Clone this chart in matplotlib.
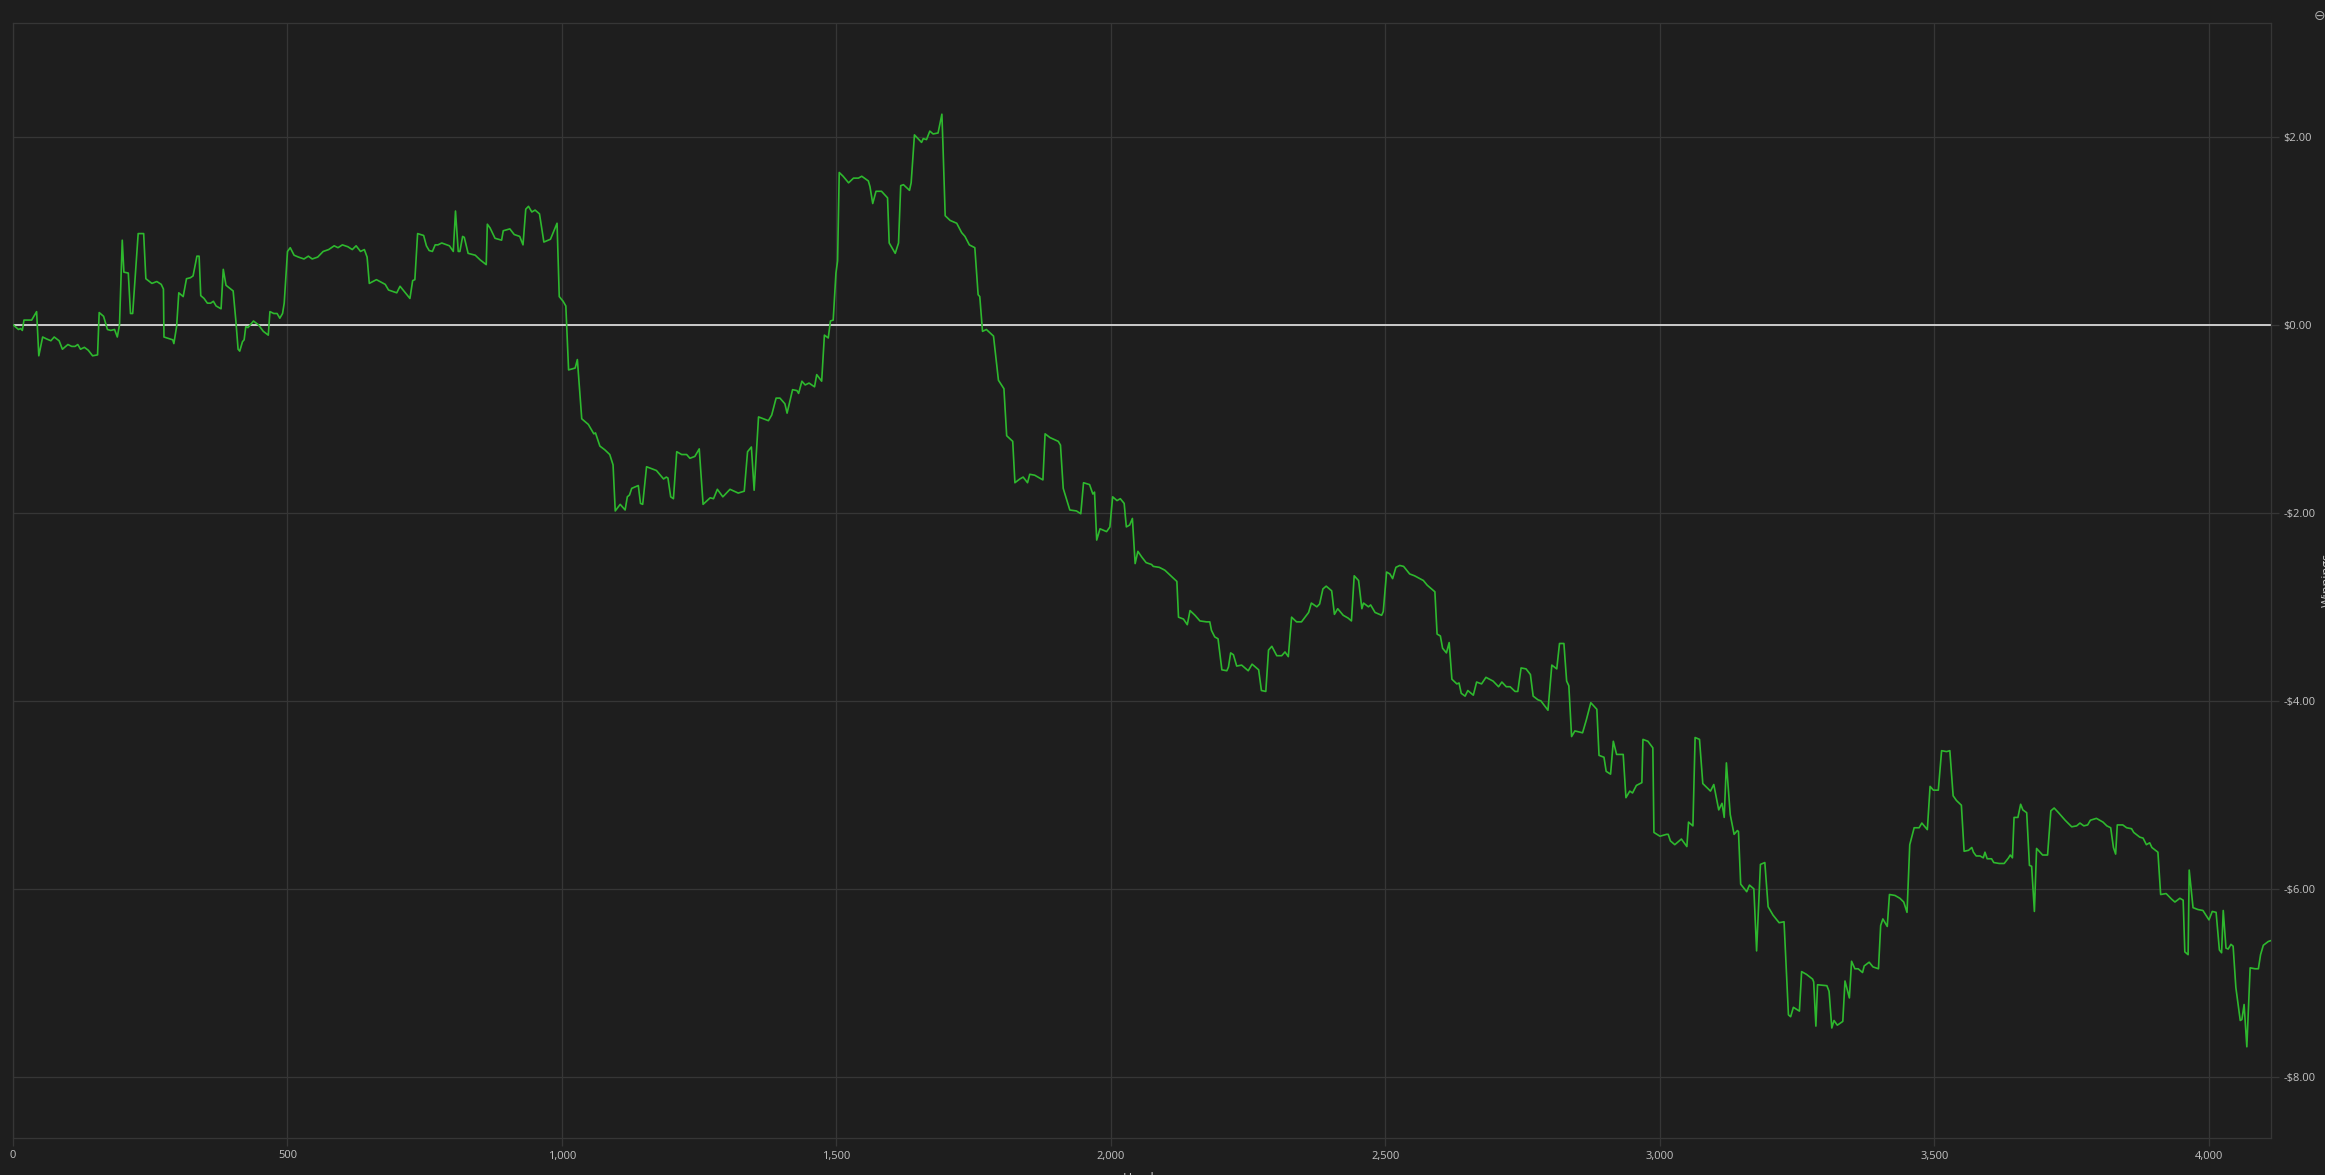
import matplotlib
matplotlib.use("Agg")
import matplotlib.pyplot as plt
from matplotlib.ticker import FuncFormatter, FixedLocator

hands = [0, 10, 14, 17, 20, 34, 43, 47, 54, 61, 69, 75, 84, 90, 100, 107, 113, 118, 123, 130,
         137, 145, 154, 157, 165, 172, 178, 185, 190, 194, 199, 202, 210, 214, 218, 228, 238, 242,
         253, 262, 270, 274, 275, 291, 293, 298, 302, 310, 316, 323, 328, 335, 339, 342, 348, 354,
         360, 365, 370, 379, 383, 388, 401, 406, 410, 413, 418, 421, 424, 428, 438, 447, 456, 465,
         468, 475, 481, 486, 491, 494, 498, 500, 505, 512, 520, 530, 538, 545, 555, 565, 575, 585,
         592, 600, 610, 618, 625, 633, 640, 645, 649, 662, 678, 684, 699, 705, 723, 728, 732, 737,
         748, 753, 758, 764, 769, 774, 781, 795, 802, 806, 811, 814, 819, 822, 829, 842, 851, 862,
         864, 869, 878, 890, 893, 905, 913, 923, 929, 934, 939, 945, 951, 959, 967, 979, 991, 995,
         1002, 1007, 1012, 1024, 1028, 1036, 1048, 1058, 1061, 1069, 1078, 1087, 1093, 1097, 1106,
         1115, 1119, 1123, 1127, 1139, 1143, 1147, 1154, 1172, 1185, 1190, 1193, 1198, 1203, 1209,
         1218, 1227, 1233, 1242, 1250, 1257, 1270, 1276, 1283, 1293, 1306, 1321, 1332, 1338, 1345,
         1350, 1358, 1376, 1382, 1390, 1397, 1406, 1410, 1420, 1428, 1431, 1437, 1443, 1450, 1460,
         1464, 1473, 1478, 1485, 1489, 1494, 1499, 1502, 1505, 1512, 1522, 1531, 1540, 1546, 1558,
         1561, 1566, 1572, 1582, 1593, 1596, 1607, 1613, 1617, 1622, 1633, 1636, 1642, 1655, 1658,
         1664, 1670, 1676, 1685, 1692, 1694, 1698, 1707, 1719, 1728, 1734, 1742, 1752, 1758, 1761,
         1766, 1773, 1786, 1795, 1805, 1810, 1821, 1825, 1834, 1840, 1848, 1852, 1861, 1876, 1880,
         1889, 1904, 1908, 1913, 1925, 1937, 1945, 1950, 1961, 1967, 1970, 1974, 1980, 1992, 1998,
         2003, 2011, 2017, 2024, 2028, 2034, 2039, 2044, 2049, 2056, 2064, 2074, 2077, 2088, 2098,
         2111, 2120, 2123, 2132, 2139, 2144, 2153, 2162, 2174, 2180, 2183, 2189, 2195, 2202, 2211,
         2214, 2218, 2223, 2229, 2238, 2250, 2257, 2269, 2274, 2282, 2287, 2293, 2302, 2311, 2317,
         2323, 2329, 2338, 2347, 2360, 2365, 2375, 2380, 2386, 2392, 2402, 2407, 2413, 2423, 2432,
         2438, 2443, 2451, 2457, 2460, 2469, 2473, 2481, 2493, 2496, 2502, 2508, 2513, 2519, 2526,
         2533, 2544, 2553, 2569, 2576, 2590, 2594, 2600, 2604, 2611, 2616, 2621, 2630, 2634, 2638,
         2645, 2650, 2660, 2666, 2675, 2683, 2696, 2706, 2712, 2720, 2727, 2736, 2741, 2747, 2756,
         2764, 2769, 2778, 2783, 2796, 2803, 2812, 2817, 2825, 2830, 2834, 2839, 2845, 2859, 2866,
         2874, 2885, 2889, 2898, 2902, 2910, 2915, 2921, 2933, 2938, 2945, 2950, 2957, 2967, 2969,
         2978, 2987, 2989, 3000, 3012, 3015, 3019, 3027, 3039, 3049, 3052, 3060, 3064, 3072, 3078,
         3092, 3098, 3107, 3113, 3117, 3121, 3128, 3135, 3141, 3143, 3147, 3158, 3163, 3169, 3171,
         3176, 3183, 3191, 3197, 3206, 3217, 3226, 3234, 3238, 3243, 3254, 3258, 3267, 3278, 3280,
         3284, 3287, 3304, 3308, 3313, 3317, 3323, 3333, 3337, 3345, 3349, 3355, 3361, 3369, 3372,
         3381, 3388, 3398, 3402, 3406, 3414, 3418, 3428, 3437, 3444, 3450, 3455, 3463, 3472, 3477,
         3487, 3492, 3498, 3507, 3513, 3522, 3528, 3534, 3540, 3549, 3554, 3562, 3568, 3571, 3576,
         3583, 3589, 3592, 3596, 3604, 3608, 3618, 3627, 3635, 3638, 3642, 3645, 3652, 3657, 3661,
         3668, 3673, 3677, 3682, 3686, 3697, 3706, 3712, 3718, 3726, 3738, 3750, 3759, 3765, 3772,
         3779, 3784, 3795, 3807, 3814, 3821, 3826, 3830, 3833, 3843, 3850, 3859, 3863, 3874, 3880,
         3886, 3892, 3896, 3907, 3912, 3922, 3932, 3938, 3947, 3953, 3956, 3962, 3964, 3971, 3980,
         3989, 4000, 4006, 4013, 4019, 4023, 4026, 4031, 4035, 4040, 4044, 4049, 4057, 4060, 4064,
         4069, 4075, 4084, 4090, 4094, 4099, 4108, 4113]

winnings = [0.00, -0.05, -0.04, -0.06, 0.05, 0.05, 0.14, -0.33, -0.13, -0.15, -0.17, -0.13, -0.17, -0.26, -0.21, -0.23, -0.23, -0.21, -0.26, -0.24,
            -0.27, -0.33, -0.32, 0.13, 0.09, -0.05, -0.06, -0.05, -0.13, 0.00, 0.90, 0.56, 0.55, 0.12, 0.12, 0.97, 0.97, 0.49,
            0.44, 0.46, 0.43, 0.38, -0.13, -0.16, -0.20, -0.02, 0.34, 0.30, 0.49, 0.50, 0.52, 0.73, 0.73, 0.31, 0.28, 0.23,
            0.23, 0.25, 0.20, 0.17, 0.59, 0.42, 0.36, 0.04, -0.26, -0.28, -0.18, -0.16, -0.02, -0.03, 0.04, 0.00, -0.07, -0.11,
            0.14, 0.12, 0.12, 0.07, 0.12, 0.23, 0.60, 0.78, 0.82, 0.74, 0.72, 0.70, 0.73, 0.70, 0.72, 0.78, 0.80, 0.84,
            0.82, 0.85, 0.83, 0.80, 0.84, 0.78, 0.80, 0.72, 0.44, 0.48, 0.43, 0.37, 0.34, 0.41, 0.28, 0.47, 0.48, 0.97,
            0.95, 0.84, 0.79, 0.78, 0.85, 0.85, 0.87, 0.84, 0.78, 1.21, 0.78, 0.78, 0.94, 0.93, 0.76, 0.74, 0.69, 0.64,
            1.07, 1.03, 0.92, 0.90, 1.00, 1.02, 0.96, 0.94, 0.85, 1.23, 1.26, 1.20, 1.22, 1.18, 0.88, 0.91, 1.08, 0.30,
            0.25, 0.20, -0.48, -0.46, -0.37, -1.00, -1.06, -1.16, -1.15, -1.29, -1.33, -1.38, -1.49, -1.98, -1.91,
            -1.97, -1.83, -1.81, -1.74, -1.71, -1.90, -1.91, -1.51, -1.55, -1.64, -1.62, -1.63, -1.83, -1.85, -1.35,
            -1.38, -1.38, -1.42, -1.40, -1.32, -1.91, -1.84, -1.85, -1.75, -1.83, -1.75, -1.79, -1.77, -1.35, -1.30,
            -1.76, -0.98, -1.02, -0.96, -0.78, -0.78, -0.84, -0.94, -0.69, -0.70, -0.73, -0.60, -0.64, -0.62, -0.66,
            -0.53, -0.60, -0.11, -0.14, 0.04, 0.05, 0.55, 0.68, 1.62, 1.58, 1.51, 1.56, 1.56, 1.58, 1.53,
            1.47, 1.29, 1.42, 1.42, 1.35, 0.87, 0.76, 0.87, 1.48, 1.49, 1.43, 1.51, 2.02, 1.94, 1.98,
            1.97, 2.06, 2.03, 2.04, 2.24, 1.90, 1.16, 1.11, 1.08, 0.98, 0.94, 0.85, 0.82, 0.32, 0.30,
            -0.07, -0.05, -0.12, -0.59, -0.68, -1.18, -1.24, -1.68, -1.64, -1.62, -1.68, -1.59, -1.60, -1.65, -1.16,
            -1.20, -1.24, -1.28, -1.74, -1.97, -1.98, -2.01, -1.68, -1.70, -1.80, -1.78, -2.29, -2.17, -2.20, -2.15,
            -1.83, -1.87, -1.85, -1.90, -2.15, -2.13, -2.06, -2.54, -2.41, -2.47, -2.53, -2.55, -2.57, -2.58, -2.61,
            -2.68, -2.73, -3.11, -3.13, -3.19, -3.04, -3.09, -3.15, -3.16, -3.16, -3.25, -3.32, -3.34, -3.67, -3.68,
            -3.64, -3.49, -3.51, -3.63, -3.62, -3.68, -3.61, -3.67, -3.89, -3.90, -3.46, -3.42, -3.52, -3.52, -3.48,
            -3.53, -3.11, -3.16, -3.16, -3.06, -2.96, -3.00, -2.97, -2.81, -2.78, -2.83, -3.08, -3.02, -3.09, -3.12,
            -3.15, -2.67, -2.72, -3.02, -2.96, -3.00, -2.98, -3.06, -3.09, -3.05, -2.63, -2.65, -2.70, -2.58, -2.56,
            -2.57, -2.65, -2.67, -2.72, -2.77, -2.84, -3.29, -3.31, -3.44, -3.49, -3.38, -3.77, -3.82, -3.81, -3.92,
            -3.95, -3.89, -3.94, -3.80, -3.82, -3.75, -3.79, -3.85, -3.80, -3.85, -3.85, -3.90, -3.90, -3.65, -3.66,
            -3.72, -3.95, -3.99, -4.00, -4.10, -3.62, -3.66, -3.39, -3.39, -3.79, -3.84, -4.38, -4.32, -4.34, -4.20,
            -4.02, -4.09, -4.58, -4.60, -4.75, -4.78, -4.43, -4.57, -4.57, -5.03, -4.96, -4.98, -4.90, -4.87, -4.41,
            -4.43, -4.50, -5.40, -5.44, -5.42, -5.42, -5.49, -5.53, -5.47, -5.55, -5.29, -5.33, -4.39, -4.41, -4.88,
            -4.96, -4.89, -5.16, -5.09, -5.24, -4.66, -5.21, -5.42, -5.38, -5.39, -5.95, -6.03, -5.96, -5.99, -6.00,
            -6.66, -5.74, -5.72, -6.19, -6.28, -6.36, -6.35, -7.34, -7.36, -7.26, -7.30, -6.88, -6.91, -6.96, -6.99,
            -7.46, -7.02, -7.03, -7.09, -7.48, -7.40, -7.45, -7.41, -6.98, -7.16, -6.77, -6.85, -6.85, -6.89, -6.82,
            -6.78, -6.83, -6.85, -6.39, -6.32, -6.40, -6.06, -6.07, -6.10, -6.14, -6.25, -5.53, -5.35, -5.35, -5.30,
            -5.37, -4.91, -4.95, -4.95, -4.53, -4.54, -4.53, -5.01, -5.06, -5.11, -5.60, -5.59, -5.56, -5.61, -5.65,
            -5.65, -5.67, -5.61, -5.68, -5.68, -5.72, -5.73, -5.73, -5.67, -5.64, -5.67, -5.24, -5.24, -5.10, -5.16,
            -5.19, -5.75, -5.76, -6.24, -5.57, -5.64, -5.64, -5.17, -5.14, -5.19, -5.27, -5.34, -5.33, -5.30, -5.33,
            -5.32, -5.27, -5.25, -5.29, -5.33, -5.35, -5.56, -5.63, -5.32, -5.32, -5.35, -5.36, -5.40, -5.45, -5.46,
            -5.53, -5.51, -5.56, -5.61, -6.06, -6.05, -6.11, -6.14, -6.10, -6.12, -6.67, -6.70, -5.80, -6.20, -6.22,
            -6.23, -6.33, -6.24, -6.25, -6.65, -6.68, -6.23, -6.63, -6.64, -6.59, -6.61, -7.05, -7.40, -7.39, -7.23,
            -7.68, -6.84, -6.85, -6.85, -6.70, -6.60, -6.56, -6.55]

x_ticks = [0, 500, 1000, 1500, 2000, 2500, 3000, 3500, 4000]
y_ticks = [-8, -6, -4, -2, 0, 2]

BG = "#1e1e1e"
GRID = "#363636"
TXT = "#c4c4c4"
FONT = ["Open Sans", "DejaVu Sans"]

W, H = 2325, 1175
fig = plt.figure(figsize=(W / 100, H / 100), dpi=100, facecolor=BG)
L, R, T, B = 13, 2271, 23, 1138
ax = fig.add_axes([L / W, 1 - B / H, (R - L) / W, (B - T) / H], facecolor=BG)

ax.set_xlim(0, 4113)
ax.set_ylim(-8.65, 3.21)

ax.xaxis.set_major_locator(FixedLocator(x_ticks))
ax.yaxis.set_major_locator(FixedLocator(y_ticks))
ax.xaxis.set_major_formatter(FuncFormatter(lambda v, p: f"{int(v):,}"))
ax.yaxis.set_major_formatter(FuncFormatter(lambda v, p: f"-${abs(v):.2f}" if v < 0 else f"${v:.2f}"))
ax.yaxis.tick_right()

ax.grid(True, color=GRID, linewidth=0.9)
ax.set_axisbelow(True)
for s in ax.spines.values():
    s.set_color(GRID)
    s.set_linewidth(0.9)

ax.tick_params(axis="both", colors=GRID, labelcolor=TXT, length=6, width=0.9, labelsize=8)
ax.tick_params(axis="x", pad=3)
ax.tick_params(axis="y", pad=3)
for lab in ax.get_xticklabels() + ax.get_yticklabels():
    lab.set_family(FONT)

ax.axhline(0, color="#d8d8d8", linewidth=1.3, zorder=2)
ax.plot(hands, winnings, color="#2eb82e", linewidth=1.2, zorder=3)

fig.text((L + R) / 2 / W, 1 - 1178 / H, "Hands", ha="center", va="center", color=TXT,
         fontsize=9, family=FONT)
fig.text(2327 / W, 1 - 580 / H, "Winnings", ha="center", va="center", rotation=90,
         color=TXT, fontsize=9, family=FONT)
fig.text(2320 / W, 1 - 16 / H, "\u2296", ha="center", va="center", color="#aaaaaa",
         fontsize=10, family=["DejaVu Sans"])

fig.savefig("out.png", dpi=100, facecolor=BG)
